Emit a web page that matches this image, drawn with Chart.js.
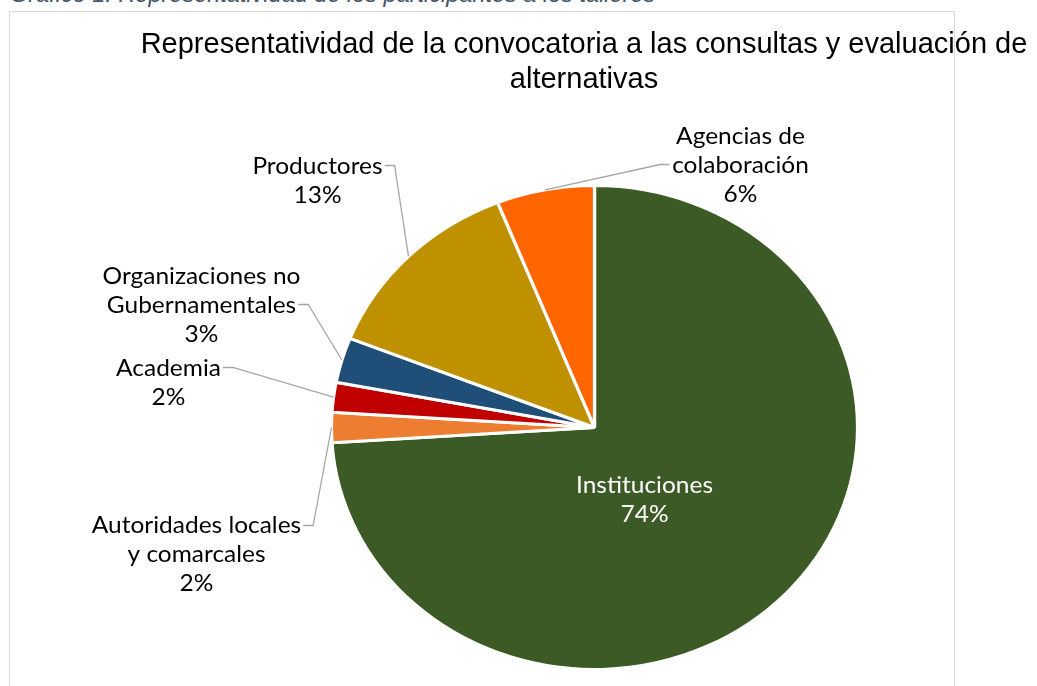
<!DOCTYPE html>
<html>
<head>
<meta charset="utf-8">
<script src="https://cdn.jsdelivr.net/npm/chart.js@4"></script>
<style>
  html, body { margin: 0; padding: 0; background: #fff; }
  #wrap { position: relative; width: 1037px; height: 686px; overflow: hidden; }
  #caption {
    position: absolute; left: 10px; top: -19px; line-height: 24px;
    font: italic 23.5px "Liberation Sans", Arial, sans-serif; color: #44546A;
    white-space: nowrap;
  }
  #box {
    position: absolute; left: 9px; top: 11px; width: 946px; height: 700px;
    border: 1.5px solid #D9D9D9; box-sizing: border-box;
  }
  canvas { position: absolute; left: 0; top: 0; }
</style>
</head>
<body>
<div id="wrap">
  <div id="caption">Gráfico 1: Representatividad de los participantes a los talleres</div>
  <div id="box"></div>
  <canvas id="pieChart" width="1037" height="686"></canvas>
</div>
<script>
// Data
const categories = ['Instituciones', 'Autoridades locales y comarcales', 'Academia',
                    'Organizaciones no Gubernamentales', 'Productores', 'Agencias de colaboración'];
const shares = [74, 2, 2, 3, 13, 6];
const labelLines = [
    ['Instituciones'],
    ['Autoridades locales', 'y comarcales'],
    ['Academia'],
    ['Organizaciones no', 'Gubernamentales'],
    ['Productores'],
    ['Agencias de', 'colaboración']
];
const sliceColors = ['#3B5A25', '#ED7D31', '#C00000', '#1F4E79', '#BF9000', '#FF6600'];
const titleLines = ['Representatividad de la convocatoria a las consultas y evaluación de', 'alternativas'];

// the reference picture is a bit wider than tall (pie and labels)
const stretchX = 1.087;

// label layout relative to pie centre: label centre x / first baseline y,
// lineY = leader height relative to first baseline, row = text row the leader touches
const labelLayout = [
    { dx: 50, dy: 65, inside: true },
    { dx: -398, dy: 105, lineY: -7, row: 0 },
    { dx: -426, dy: -52, lineY: -8, row: 0 },
    { dx: -393, dy: -144, lineY: 21, row: 1 },
    { dx: -277, dy: -254, lineY: -8, row: 0 },
    { dx: 146, dy: -284, lineY: 21, row: 1, leftSide: true }
];

const pctText = v => Math.round(v) + '%';

const stretchPlugin = {
    id: 'stretch',
    beforeDatasetsDraw(chart) {
        const arc = chart.getDatasetMeta(0).data[0];
        const ctx = chart.ctx;
        ctx.save();
        ctx.translate(arc.x, arc.y);
        ctx.scale(stretchX, 1);
        ctx.translate(-arc.x, -arc.y);
    },
    afterDatasetsDraw(chart) {
        chart.ctx.restore();
    }
};

const labelPlugin = {
    id: 'pieLabels',
    afterDraw(chart) {
        const ctx = chart.ctx;
        const meta = chart.getDatasetMeta(0);
        const cx = meta.data[0].x, cy = meta.data[0].y;

        // title
        ctx.save();
        ctx.fillStyle = '#000';
        ctx.font = '29px "Liberation Sans", Arial, sans-serif';
        ctx.textAlign = 'center';
        ctx.textBaseline = 'alphabetic';
        titleLines.forEach((t, i) => ctx.fillText(t, 584, 53 + i * 35));
        ctx.restore();

        const lh = 29;
        ctx.save();
        ctx.font = '22.5px Lato, "Noto Sans", sans-serif';
        ctx.textBaseline = 'alphabetic';
        meta.data.forEach((arc, i) => {
            const lay = labelLayout[i];
            const lines = labelLines[i].concat([pctText(shares[i])]);
            const lx = cx + lay.dx, ly = cy + lay.dy;

            ctx.save();
            ctx.translate(lx, 0);
            ctx.scale(stretchX, 1);
            ctx.textAlign = 'center';
            ctx.fillStyle = lay.inside ? '#fff' : '#000';
            lines.forEach((t, k) => ctx.fillText(t, 0, ly + k * lh));
            ctx.restore();
            if (lay.inside) return;

            // leader line: from the label to the slice edge at its mid-angle
            const mid = (arc.startAngle + arc.endAngle) / 2;
            const ex = cx + Math.cos(mid) * arc.outerRadius * stretchX;
            const ey = cy + Math.sin(mid) * arc.outerRadius;
            const halfW = ctx.measureText(labelLines[i][lay.row]).width * stretchX / 2;
            const yLine = ly + lay.lineY;
            let tx, elbowX;
            if (lay.leftSide) {
                tx = lx - halfW - 3;
                elbowX = tx - 9;
            } else {
                tx = lx + halfW + 2;
                elbowX = tx + 10;
            }
            ctx.strokeStyle = '#A6A6A6';
            ctx.lineWidth = 1.3;
            ctx.beginPath();
            ctx.moveTo(tx, yLine);
            ctx.lineTo(elbowX, yLine);
            ctx.lineTo(ex, ey);
            ctx.stroke();
        });
        ctx.restore();
    }
};

new Chart(document.getElementById('pieChart').getContext('2d'), {
    type: 'pie',
    data: {
        labels: categories,
        datasets: [{
            data: shares,
            backgroundColor: sliceColors,
            borderColor: '#ffffff',
            borderWidth: 3,
            hoverOffset: 0
        }]
    },
    options: {
        responsive: false,
        animation: false,
        events: [],
        layout: { padding: { top: 184, bottom: 15, left: 351, right: 199 } },
        plugins: {
            legend: { display: false },
            tooltip: { enabled: false },
            title: { display: false }
        }
    },
    plugins: [stretchPlugin, labelPlugin]
});
</script>
</body>
</html>
